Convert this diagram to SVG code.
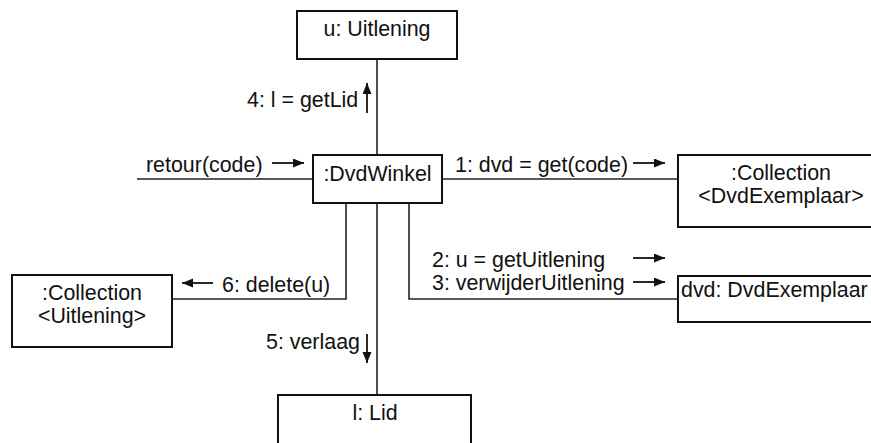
<svg xmlns="http://www.w3.org/2000/svg" width="871" height="443" viewBox="0 0 871 443">
<defs>
<style>
.box{fill:#fff;stroke:#111;stroke-width:2}
.con{fill:none;stroke:#222;stroke-width:1.6}
.arr{fill:none;stroke:#111;stroke-width:1.8}
text{font-family:"Liberation Sans",Arial,sans-serif;font-size:21.4px;fill:#111}
.c{text-anchor:middle}
</style>
<marker id="ah" markerUnits="userSpaceOnUse" markerWidth="12" markerHeight="10" refX="11" refY="4.5" orient="auto">
<path d="M0,0 L11,4.5 L0,9 z" fill="#111"/>
</marker>
</defs>
<rect width="871" height="443" fill="#fff"/>
<g id="connectors">
<line class="con" x1="137" y1="179" x2="313" y2="179"/>
<line class="con" x1="442" y1="179" x2="678" y2="179"/>
<line class="con" x1="377" y1="59" x2="377" y2="155"/>
<line class="con" x1="377" y1="203" x2="377" y2="395"/>
<polyline class="con" points="346,203 346,299 172,299"/>
<polyline class="con" points="409,203 409,299 678,299"/>
<line class="arr" x1="272" y1="163" x2="304" y2="163" marker-end="url(#ah)"/>
<line class="arr" x1="633" y1="163" x2="665" y2="163" marker-end="url(#ah)"/>
<line class="arr" x1="633" y1="258" x2="665" y2="258" marker-end="url(#ah)"/>
<line class="arr" x1="633" y1="282" x2="665" y2="282" marker-end="url(#ah)"/>
<line class="arr" x1="213" y1="283" x2="182" y2="283" marker-end="url(#ah)"/>
<line class="arr" x1="367" y1="113" x2="367" y2="83" marker-end="url(#ah)"/>
<line class="arr" x1="367" y1="334" x2="367" y2="363" marker-end="url(#ah)"/>
<text x="146" y="172">retour(code)</text>
<text x="247" y="107">4: l = getLid</text>
<text x="455" y="172">1: dvd = get(code)</text>
<text x="432" y="267">2: u = getUitlening</text>
<text x="432" y="290">3: verwijderUitlening</text>
<text x="222" y="292">6: delete(u)</text>
<text x="266" y="349">5: verlaag</text>
</g>
<g id="uitlening">
<rect class="box" x="297" y="11" width="160" height="48"/>
<text class="c" x="377" y="36">u: Uitlening</text>
</g>
<g id="dvdwinkel">
<rect class="box" x="313" y="155" width="129" height="48"/>
<text class="c" x="377.5" y="181">:DvdWinkel</text>
</g>
<g id="collection-dvdexemplaar">
<rect class="box" x="678" y="155" width="210" height="72"/>
<text class="c" x="781" y="180">:Collection</text>
<text class="c" x="781" y="203">&lt;DvdExemplaar&gt;</text>
</g>
<g id="dvdexemplaar">
<rect class="box" x="678" y="276" width="210" height="46"/>
<text x="681" y="297">dvd: DvdExemplaar</text>
</g>
<g id="collection-uitlening">
<rect class="box" x="12" y="275" width="160" height="72"/>
<text class="c" x="92" y="300">:Collection</text>
<text class="c" x="92" y="323">&lt;Uitlening&gt;</text>
</g>
<g id="lid">
<rect class="box" x="278" y="395" width="193" height="60"/>
<text class="c" x="375" y="420">l: Lid</text>
</g>
</svg>
